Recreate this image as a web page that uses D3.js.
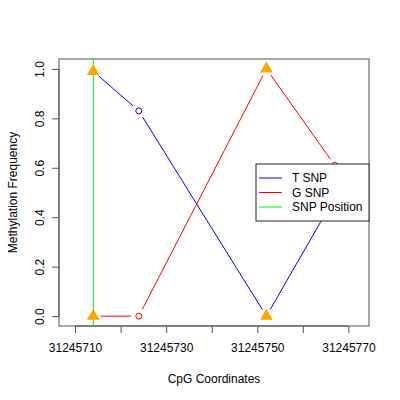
<!DOCTYPE html>
<html lang="en">
<head>
<meta charset="utf-8">
<title>Methylation Frequency by CpG</title>
<script src="https://cdn.jsdelivr.net/npm/d3@7"></script>
<style>
  body { margin: 0; background: #fff; }
  text { font-family: "Liberation Sans", Arial, sans-serif; fill: #000; }
</style>
</head>
<body>
<div id="chart"></div>
<script>
// CpG positions and methylation values
var positions = [31245714, 31245724, 31245752, 31245767];
var tValues = [0.99, 0.83, 0.0, 0.48];
var gValues = [0.0, 0.0, 1.0, 0.61];
var shapes = ["triangle", "circle", "triangle", "circle"];
var snpPosition = 31245714;
var xTicks = [31245710, 31245720, 31245730, 31245740, 31245750, 31245760, 31245770];
var xTickLabels = ["31245710", "", "31245730", "", "31245750", "", "31245770"];
var yTicks = [0, 0.2, 0.4, 0.6, 0.8, 1.0];
var legendLabels = ["T SNP", "G SNP", "SNP Position"];
var legendColors = ["blue", "red", "#00ee00"];

var w = 400, h = 400;
var plotLeft = 59, plotRight = 369, plotTop = 59, plotBottom = 326;
var gap = 7.5;

var svg = d3.select("#chart").append("svg")
    .attr("width", w).attr("height", h);

// R style limits: data range +/- 5, then 4% extension
var xmin = d3.min(positions) - 5, xmax = d3.max(positions) + 5;
var xpad = (xmax - xmin) * 0.04;
var xScale = d3.scaleLinear()
    .domain([xmin - xpad, xmax + xpad])
    .range([plotLeft, plotRight]);
var yScale = d3.scaleLinear()
    .domain([-0.04, 1.04])
    .range([plotBottom, plotTop]);

// x axis
var xAxis = d3.axisBottom(xScale)
    .tickValues(xTicks)
    .tickSize(7)
    .tickPadding(10)
    .tickFormat(function(d, i) { return xTickLabels[i]; });
var gx = svg.append("g")
    .attr("transform", "translate(0," + plotBottom + ")")
    .call(xAxis);
gx.select(".domain")
    .attr("d", "M" + xScale(xTicks[0]) + ",0H" + xScale(xTicks[xTicks.length - 1]))
    .attr("stroke", "#555");
gx.selectAll(".tick line").attr("stroke", "#555");
gx.selectAll("text").style("font-size", "12px").attr("fill", "#000");

// y axis
var yAxis = d3.axisLeft(yScale)
    .tickValues(yTicks)
    .tickSize(7)
    .tickFormat(d3.format(".1f"));
var gy = svg.append("g")
    .attr("transform", "translate(" + plotLeft + ",0)")
    .call(yAxis);
gy.select(".domain")
    .attr("d", "M0," + yScale(0) + "V" + yScale(1))
    .attr("stroke", "#555");
gy.selectAll(".tick line").attr("stroke", "#555");
gy.selectAll(".tick text")
    .attr("x", null)
    .attr("text-anchor", "middle")
    .attr("transform", "translate(-19,0) rotate(-90)")
    .attr("dy", "0.35em")
    .style("font-size", "12px")
    .attr("fill", "#000");

// plot box
svg.append("rect")
    .attr("x", plotLeft).attr("y", plotTop)
    .attr("width", plotRight - plotLeft).attr("height", plotBottom - plotTop)
    .attr("fill", "none").attr("stroke", "#555");

// axis titles
svg.append("text")
    .attr("x", (plotLeft + plotRight) / 2).attr("y", 383)
    .attr("text-anchor", "middle")
    .style("font-size", "12px")
    .text("CpG Coordinates");
svg.append("text")
    .attr("transform", "translate(17," + (plotTop + plotBottom) / 2 + ") rotate(-90)")
    .attr("text-anchor", "middle")
    .style("font-size", "12px")
    .text("Methylation Frequency");

// lines with gaps at points (like R type="b")
function drawSeries(values, color) {
  var pts = positions.map(function(p, i) { return [xScale(p), yScale(values[i])]; });
  for (var i = 0; i < pts.length - 1; i++) {
    var a = pts[i], b = pts[i + 1];
    var dx = b[0] - a[0], dy = b[1] - a[1];
    var len = Math.sqrt(dx * dx + dy * dy);
    if (len <= 2 * gap) continue;
    var ux = dx / len, uy = dy / len;
    svg.append("line")
      .attr("x1", a[0] + ux * gap).attr("y1", a[1] + uy * gap)
      .attr("x2", b[0] - ux * gap).attr("y2", b[1] - uy * gap)
      .attr("stroke", color).attr("stroke-width", 1);
  }
}
drawSeries(tValues, "blue");
drawSeries(gValues, "red");

// SNP position line
svg.append("line")
    .attr("x1", xScale(snpPosition)).attr("x2", xScale(snpPosition))
    .attr("y1", plotTop).attr("y2", plotBottom)
    .attr("stroke", legendColors[2]).attr("stroke-width", 1);

// points
var triangle = d3.symbol().type(d3.symbolTriangle).size(70);
function drawPoints(values, color) {
  positions.forEach(function(p, i) {
    var cx = xScale(p), cy = yScale(values[i]);
    if (shapes[i] === "triangle") {
      svg.append("path")
        .attr("d", triangle())
        .attr("transform", "translate(" + cx + "," + cy + ")")
        .attr("fill", "orange");
    } else {
      svg.append("circle")
        .attr("cx", cx).attr("cy", cy).attr("r", 3)
        .attr("fill", "none").attr("stroke", color).attr("stroke-width", 1);
    }
  });
}
drawPoints(tValues, "blue");
drawPoints(gValues, "red");

// legend
var lg = svg.append("g").attr("transform", "translate(256,164)");
lg.append("rect")
    .attr("width", plotRight - 256).attr("height", 57)
    .attr("fill", "#fff").attr("stroke", "#222");
legendLabels.forEach(function(label, i) {
  var y = 14 + i * 14.5;
  lg.append("line")
    .attr("x1", 3).attr("x2", 26).attr("y1", y).attr("y2", y)
    .attr("stroke", legendColors[i]).attr("stroke-width", 1);
  lg.append("text")
    .attr("x", 36).attr("y", y).attr("dy", "0.35em")
    .style("font-size", "12px")
    .text(label);
});
</script>
</body>
</html>
